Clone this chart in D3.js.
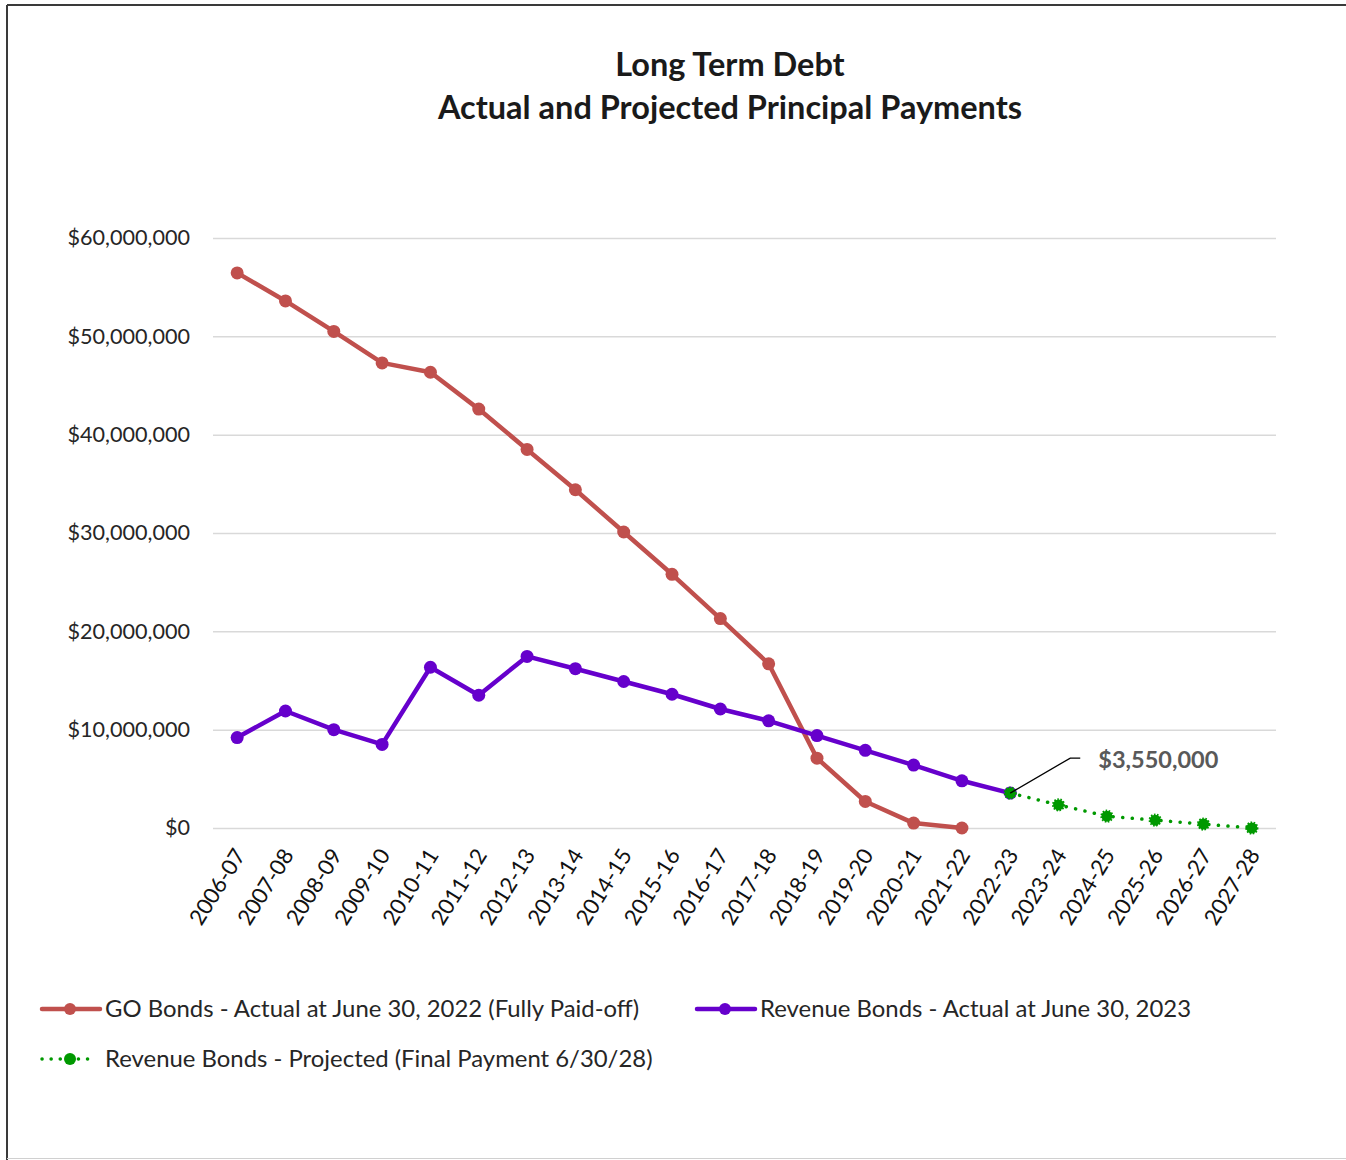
<!DOCTYPE html>
<html>
<head>
<meta charset="utf-8">
<script src="https://cdn.jsdelivr.net/npm/d3@7"></script>
<style>
  body { margin: 0; background: #fff; }
  svg { display: block; font-family: Lato, "Open Sans", sans-serif; }
</style>
</head>
<body>
<div id="chart"></div>
<script>
// data
const years = ["2006-07","2007-08","2008-09","2009-10","2010-11","2011-12","2012-13","2013-14",
  "2014-15","2015-16","2016-17","2017-18","2018-19","2019-20","2020-21","2021-22","2022-23",
  "2023-24","2024-25","2025-26","2026-27","2027-28"];
const goBonds = [56.45, 53.6, 50.5, 47.3, 46.35, 42.6, 38.5, 34.4, 30.1, 25.8, 21.3, 16.7, 7.1, 2.7, 0.5, 0];
const revBonds = [9.2, 11.9, 10.0, 8.5, 16.35, 13.5, 17.45, 16.2, 14.9, 13.6, 12.1, 10.9, 9.4, 7.9, 6.4, 4.8, 3.55];
const projBonds = [3.55, 2.35, 1.2, 0.8, 0.4, 0];   // starts at 2022-23
const yTicks = [0, 10, 20, 30, 40, 50, 60];
const labels = ["GO Bonds - Actual at June 30, 2022 (Fully Paid-off)",
  "Revenue Bonds - Actual at June 30, 2023",
  "Revenue Bonds - Projected (Final Payment 6/30/28)"];
const callout = "$3,550,000";

const W = 1346, H = 1160;
const colGo = "#c0504d", colRev = "#6600cc", colProj = "#009900";

const svg = d3.select("#chart").append("svg")
  .attr("width", W).attr("height", H);

// frame
svg.append("line").attr("x1", 7).attr("x2", W).attr("y1", 5).attr("y2", 5)
  .attr("stroke", "#3a3a3a").attr("stroke-width", 2);
svg.append("line").attr("x1", 7).attr("x2", 7).attr("y1", 5).attr("y2", 1160)
  .attr("stroke", "#3a3a3a").attr("stroke-width", 2);
svg.append("line").attr("x1", 7).attr("x2", W).attr("y1", 1158.5).attr("y2", 1158.5)
  .attr("stroke", "#d0d0d0").attr("stroke-width", 1);

// title
const title = svg.append("text").attr("text-anchor", "middle")
  .attr("font-weight", "bold").attr("font-size", 32.5).attr("fill", "#1a1a1a");
title.append("tspan").attr("x", 730).attr("y", 76).text("Long Term Debt");
title.append("tspan").attr("x", 730).attr("y", 119).text("Actual and Projected Principal Payments");

const x = d3.scaleBand().domain(years).range([213, 1276]);
const cx = d => x(d) + x.bandwidth() / 2;
const y = d3.scaleLinear().domain([0, 60]).range([828, 238]);

// grid + y labels
const yAxis = svg.append("g").attr("transform", "translate(213,0)")
  .call(d3.axisLeft(y).tickValues(yTicks).tickSize(-1063)
    .tickFormat(d => "$" + d3.format(",")(d * 1000000)));
yAxis.select(".domain").remove();
yAxis.selectAll(".tick line").attr("stroke", "#d9d9d9").attr("stroke-width", 1.5);
yAxis.selectAll(".tick text").attr("x", -23).attr("font-size", 21.6)
  .attr("fill", "#262626").attr("font-family", "Lato, sans-serif");

// x labels
const xAxis = svg.append("g").attr("transform", "translate(0,828)")
  .call(d3.axisBottom(x).tickSize(0));
xAxis.select(".domain").remove();
xAxis.selectAll(".tick text")
  .attr("font-size", 22).attr("fill", "#111").attr("font-family", "Lato, sans-serif")
  .attr("text-anchor", "end").attr("dy", 0).attr("y", 0)
  .attr("transform", "translate(9,27) rotate(-58)");

const line = d3.line().x(d => cx(d.k)).y(d => y(d.v));
const goData = goBonds.map((v, i) => ({ k: years[i], v }));
const revData = revBonds.map((v, i) => ({ k: years[i], v }));
const projData = projBonds.map((v, i) => ({ k: years[i + 16], v }));

svg.append("path").datum(goData).attr("d", line).attr("fill", "none")
  .attr("stroke", colGo).attr("stroke-width", 4.5).attr("stroke-linejoin", "round");
svg.append("g").selectAll("circle").data(goData).join("circle")
  .attr("cx", d => cx(d.k)).attr("cy", d => y(d.v)).attr("r", 6.5).attr("fill", colGo);

svg.append("path").datum(revData).attr("d", line).attr("fill", "none")
  .attr("stroke", colRev).attr("stroke-width", 4.5).attr("stroke-linejoin", "round");
svg.append("g").selectAll("circle").data(revData).join("circle")
  .attr("cx", d => cx(d.k)).attr("cy", d => y(d.v)).attr("r", 6.5).attr("fill", colRev);

svg.append("path").datum(projData).attr("d", line).attr("fill", "none")
  .attr("stroke", colProj).attr("stroke-width", 3.5).attr("stroke-linecap", "round")
  .attr("stroke-dasharray", "0.1 9.5");
svg.append("g").selectAll("circle").data(projData).join("circle")
  .attr("cx", d => cx(d.k)).attr("cy", d => y(d.v)).attr("r", 5.5).attr("fill", colProj)
  .attr("stroke", colProj).attr("stroke-width", 2.2).attr("stroke-dasharray", "1.5 1.5");

// callout for last actual revenue value
const px = cx(years[16]), py = y(projBonds[0]);
svg.append("path")
  .attr("d", `M${px},${py}L${px + 60},${py - 35}H${px + 70}`)
  .attr("fill", "none").attr("stroke", "#000").attr("stroke-width", 1.3);
svg.append("text").attr("x", px + 88).attr("y", py - 25)
  .attr("font-size", 23.5).attr("font-weight", "bold").attr("fill", "#595959")
  .text(callout);

// legend
const leg = [
  { x: 42, y: 1009, c: colGo, dash: null, t: labels[0] },
  { x: 697, y: 1009, c: colRev, dash: null, t: labels[1] },
  { x: 42, y: 1059, c: colProj, dash: "0.1 9", t: labels[2] }
];
const lg = svg.append("g").selectAll("g").data(leg).join("g")
  .attr("transform", d => `translate(${d.x},${d.y})`);
lg.append("line").attr("x1", 0).attr("x2", d => d.dash ? 52 : 58)
  .attr("stroke", d => d.c).attr("stroke-width", d => d.dash ? 3.5 : 4.5)
  .attr("stroke-linecap", "round").attr("stroke-dasharray", d => d.dash);
lg.append("circle").attr("cx", 28).attr("r", 6).attr("fill", d => d.c);
lg.append("text").attr("x", 63).attr("y", 8).attr("font-size", 23.9).attr("fill", "#262626")
  .text(d => d.t);
</script>
</body>
</html>
